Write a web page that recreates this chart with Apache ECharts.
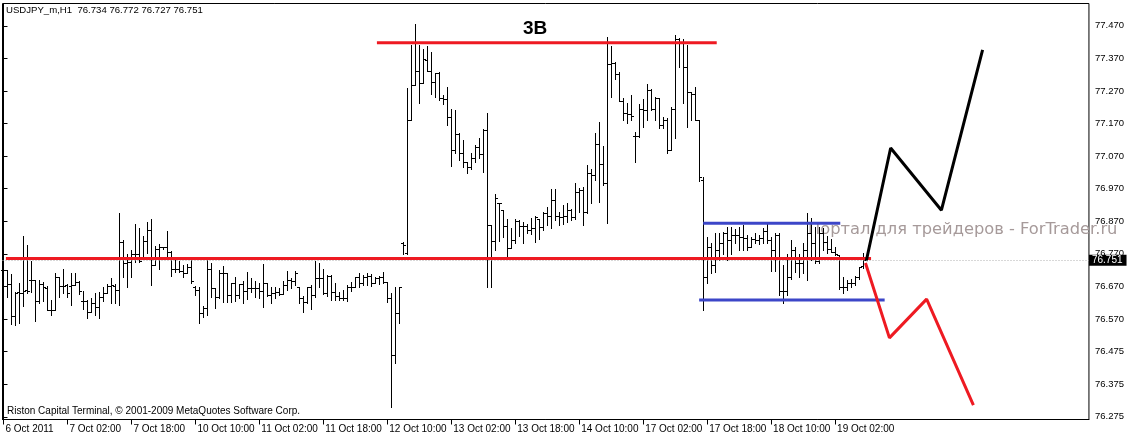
<!DOCTYPE html>
<html><head><meta charset="utf-8">
<script src="https://cdn.jsdelivr.net/npm/echarts@6/dist/echarts.min.js"></script>
<style>html,body{margin:0;padding:0;background:#fff}#c{width:1127px;height:436px}</style>
</head><body><div id="c"></div>
<script>
// USDJPY_m H1 bars (open, high, low, close), one entry per hourly bar
const opens = [
76.720,76.720,76.676,76.580,76.654,76.651,76.659,76.689,76.689,76.626,
76.677,76.664,76.599,76.599,76.698,76.671,76.674,76.671,76.674,76.685,
76.624,76.624,76.593,76.618,76.608,76.638,76.651,76.671,76.671,76.659,
76.807,76.743,76.745,76.771,76.771,76.756,76.809,76.843,76.736,76.785,
76.790,76.790,76.776,76.725,76.724,76.718,76.712,76.730,76.669,76.659,
76.587,76.603,76.725,76.664,76.638,76.710,76.710,76.643,76.679,76.643,
76.677,76.657,76.664,76.664,76.664,76.657,76.679,76.643,76.649,76.652,
76.646,76.674,76.689,76.687,76.669,76.635,76.621,76.667,76.643,76.695,
76.695,76.651,76.702,76.654,76.640,76.635,76.635,76.669,76.669,76.698,
76.679,76.698,76.702,76.679,76.695,76.698,76.684,76.633,76.459,76.587,
76.802,76.773,77.180,77.288,77.332,77.293,77.365,77.332,77.298,77.324,
77.247,77.244,77.189,77.090,77.138,77.080,77.053,77.037,77.063,77.099,
77.076,77.150,76.858,76.810,76.927,76.906,76.855,76.787,76.812,76.872,
76.855,76.855,76.843,76.848,76.876,76.853,76.894,76.886,76.935,76.886,
76.882,76.886,76.906,76.884,76.961,76.966,76.899,77.019,77.012,77.107,
77.047,76.986,77.354,77.356,77.322,77.240,77.201,77.199,77.131,77.131,
77.213,77.211,77.273,77.213,77.247,77.165,77.180,77.088,77.213,77.428,
77.416,77.344,77.267,77.262,77.180,76.996,76.700,76.792,76.736,76.782,
76.804,76.833,76.812,76.828,76.828,76.823,76.818,76.792,76.815,76.812,
76.818,76.841,76.812,76.782,76.828,76.657,76.657,76.698,76.782,76.743,
76.741,76.782,76.833,76.804,76.749,76.833,76.807,76.784,76.777,76.766,
76.669,76.669,76.679,76.681,76.700,76.734];
const highs = [
76.738,76.720,76.708,76.654,76.682,76.825,76.796,76.749,76.689,76.689,
76.683,76.671,76.628,76.710,76.698,76.725,76.677,76.710,76.710,76.686,
76.657,76.628,76.636,76.649,76.654,76.669,76.677,76.695,76.676,76.894,
76.812,76.771,76.782,76.861,76.848,76.826,76.869,76.876,76.794,76.800,
76.792,76.840,76.778,76.759,76.749,76.736,76.739,76.751,76.671,76.669,
76.610,76.751,76.741,76.664,76.720,76.732,76.710,76.679,76.700,76.677,
76.687,76.715,76.695,76.687,76.681,76.738,76.679,76.669,76.669,76.664,
76.687,76.718,76.695,76.717,76.669,76.640,76.669,76.674,76.749,76.743,
76.725,76.705,76.705,76.679,76.654,76.659,76.674,76.684,76.700,76.710,
76.705,76.710,76.708,76.698,76.702,76.715,76.684,76.651,76.669,76.669,
76.805,77.280,77.411,77.475,77.411,77.400,77.408,77.390,77.326,77.329,
77.257,77.281,77.216,77.211,77.140,77.119,77.053,77.080,77.104,77.124,
77.152,77.201,76.858,76.955,76.927,76.906,76.876,76.848,76.876,76.874,
76.868,76.863,76.879,76.886,76.876,76.899,76.914,76.968,76.968,76.899,
76.920,76.925,76.909,76.988,76.971,76.976,77.042,77.029,77.142,77.175,
77.101,77.434,77.408,77.359,77.329,77.247,77.234,77.257,77.145,77.230,
77.244,77.291,77.275,77.252,77.247,77.191,77.186,77.221,77.441,77.431,
77.428,77.411,77.267,77.281,77.180,77.007,76.823,76.802,76.833,76.833,
76.838,76.853,76.853,76.845,76.853,76.858,76.828,76.823,76.833,76.828,
76.848,76.862,76.823,76.833,76.833,76.736,76.771,76.812,76.792,76.771,
76.802,76.894,76.879,76.853,76.853,76.848,76.825,76.815,76.792,76.766,
76.700,76.690,76.692,76.702,76.731,76.772];
const lows = [
76.679,76.638,76.554,76.553,76.558,76.611,76.649,76.652,76.565,76.620,
76.625,76.597,76.582,76.597,76.638,76.649,76.638,76.613,76.674,76.646,
76.600,76.574,76.592,76.582,76.574,76.626,76.651,76.618,76.620,76.613,
76.700,76.669,76.700,76.746,76.745,76.753,76.773,76.674,76.736,76.725,
76.786,76.756,76.702,76.715,76.715,76.700,76.710,76.681,76.643,76.558,
76.575,76.582,76.638,76.603,76.633,76.623,76.623,76.623,76.626,76.633,
76.620,76.630,76.654,76.638,76.633,76.608,76.640,76.620,76.636,76.643,
76.646,76.659,76.664,76.674,76.620,76.592,76.618,76.600,76.638,76.669,
76.646,76.640,76.628,76.628,76.628,76.628,76.626,76.657,76.669,76.669,
76.674,76.674,76.671,76.679,76.677,76.681,76.623,76.300,76.436,76.559,
76.769,76.771,77.180,77.288,77.234,77.293,77.332,77.262,77.250,77.242,
77.230,77.165,77.039,77.078,77.058,77.037,77.017,77.029,77.053,77.063,
77.022,76.669,76.667,76.783,76.810,76.822,76.763,76.787,76.802,76.824,
76.802,76.835,76.831,76.807,76.817,76.843,76.858,76.848,76.874,76.858,
76.863,76.868,76.874,76.876,76.899,76.858,76.894,76.925,76.996,76.930,
76.981,76.865,77.252,77.308,77.240,77.180,77.172,77.180,77.053,77.129,
77.160,77.180,77.211,77.180,77.155,77.155,77.078,77.088,77.124,77.344,
77.234,77.158,77.180,77.180,76.994,76.598,76.679,76.710,76.715,76.751,
76.771,76.751,76.771,76.804,76.782,76.782,76.782,76.792,76.802,76.800,
76.802,76.804,76.718,76.718,76.644,76.618,76.644,76.694,76.715,76.700,
76.710,76.690,76.751,76.743,76.741,76.782,76.773,76.777,76.766,76.661,
76.649,76.659,76.669,76.674,76.692,76.727];
const closes = [
76.720,76.676,76.580,76.651,76.651,76.657,76.657,76.689,76.626,76.677,
76.667,76.599,76.599,76.698,76.671,76.671,76.651,76.674,76.685,76.657,
76.624,76.593,76.618,76.608,76.638,76.651,76.671,76.673,76.659,76.807,
76.743,76.745,76.771,76.771,76.749,76.809,76.843,76.736,76.785,76.790,
76.790,76.776,76.725,76.724,76.718,76.712,76.730,76.686,76.659,76.587,
76.603,76.725,76.664,76.638,76.710,76.710,76.643,76.679,76.643,76.677,
76.657,76.664,76.664,76.664,76.657,76.679,76.643,76.649,76.652,76.646,
76.674,76.689,76.687,76.712,76.635,76.621,76.667,76.643,76.695,76.695,
76.651,76.702,76.654,76.640,76.635,76.635,76.669,76.669,76.698,76.679,
76.698,76.702,76.679,76.695,76.698,76.684,76.633,76.459,76.587,76.668,
76.797,77.180,77.288,77.332,77.293,77.367,77.332,77.298,77.324,77.247,
77.244,77.189,77.090,77.138,77.080,77.053,77.037,77.063,77.099,77.076,
77.150,76.858,76.810,76.940,76.925,76.855,76.787,76.812,76.872,76.855,
76.855,76.843,76.848,76.884,76.853,76.894,76.886,76.935,76.886,76.882,
76.886,76.906,76.884,76.961,76.966,76.899,77.019,77.012,77.107,77.047,
76.986,77.354,77.356,77.322,77.240,77.201,77.199,77.193,77.131,77.213,
77.211,77.273,77.213,77.247,77.165,77.180,77.088,77.213,77.428,77.416,
77.344,77.267,77.262,77.180,77.007,76.700,76.792,76.736,76.782,76.804,
76.833,76.812,76.828,76.828,76.823,76.818,76.792,76.815,76.812,76.818,
76.841,76.812,76.782,76.828,76.657,76.657,76.698,76.782,76.743,76.741,
76.782,76.833,76.804,76.749,76.833,76.807,76.784,76.777,76.771,76.669,
76.669,76.679,76.681,76.700,76.729,76.751];

// time axis labels (bar index of each label)
const xTickBars = [0,16,32,48,64,80,96,112,128,144,160,176,192,208];
const xTickLabels = ["6 Oct 2011","7 Oct 02:00","7 Oct 18:00","10 Oct 10:00","11 Oct 02:00",
  "11 Oct 18:00","12 Oct 10:00","13 Oct 02:00","13 Oct 18:00","14 Oct 10:00",
  "17 Oct 02:00","17 Oct 18:00","18 Oct 10:00","19 Oct 02:00"];
// price axis labels
const yTickValues = [77.47,77.37,77.27,77.17,77.07,76.97,76.87,76.77,76.67,76.57,76.47,76.37,76.27];
const yTickLabels = ["77.470","77.370","77.270","77.170","77.070","76.970","76.870","76.770",
  "76.670","76.570","76.475","76.375","76.275"];

// drawn analysis objects: [barIndex, price]
const resistanceLine = [[93.4,77.418],[178.4,77.418]];
const supportLine = [[0.6,76.756],[217,76.756]];
const channelTopLine = [[175,76.864],[209.3,76.864]];
const channelBottomLine = [[174,76.628],[220.4,76.628]];
const bullPath = [[215.8,76.748],[221.9,77.095],[234.6,76.904],[244.9,77.396]];
const bearPath = [[215.6,76.742],[221.6,76.512],[230.9,76.631],[242.6,76.306]];
const symbolName = "USDJPY_m,H1";

const n = closes.length;
const last = n - 1;
const ohlc = opens.map((o, i) => [i, o, highs[i], lows[i], closes[i]]);
const fmt = v => v.toFixed(3);
const font = 'Liberation Sans, Arial, sans-serif';

const chart = echarts.init(document.getElementById('c'), null, {renderer: 'canvas'});
const lineSeries = (data, color, z) => ({
  type: 'line', data, symbol: 'none', silent: true, animation: false, z,
  lineStyle: {color, width: 3, cap: 'butt'}
});

chart.setOption({
  animation: false,
  backgroundColor: '#fff',
  grid: {left: 2.5, right: 37.5, top: 3.5, bottom: 16.5, show: true,
    borderColor: '#000', borderWidth: 1, backgroundColor: 'transparent'},
  xAxis: {
    type: 'value', min: -0.25, max: 271.5,
    axisLine: {show: true, onZero: false, lineStyle: {color: '#000', width: 1}},
    axisTick: {show: true, customValues: xTickBars, length: 5, lineStyle: {color: '#000'}},
    axisLabel: {customValues: xTickBars, align: 'left', margin: 5, padding: [0,0,0,2],
      fontSize: 10, color: '#000', fontFamily: font,
      formatter: v => { const k = xTickBars.indexOf(Math.round(v)); return k >= 0 ? xTickLabels[k] : ''; }},
    splitLine: {show: false}
  },
  yAxis: {
    type: 'value', position: 'right', min: 76.2616, max: 77.5383,
    axisLine: {show: true, lineStyle: {color: '#000', width: 1}},
    axisTick: {show: true, customValues: yTickValues, length: 4, lineStyle: {color: '#000'}},
    axisLabel: {customValues: yTickValues, margin: 6, align: 'left', fontSize: 9.5,
      color: '#000', fontFamily: font,
      formatter: v => { const k = yTickValues.findIndex(t => Math.abs(t - v) < 1e-6); return k >= 0 ? yTickLabels[k] : ''; }},
    splitLine: {show: false}
  },
  graphic: [
    {type: 'text', left: 6, top: 5, z: 20, style: {
      text: symbolName + '  ' + [opens[last], highs[last], lows[last], closes[last]].map(fmt).join(' '),
      fontSize: 9.6, fontFamily: font, fill: '#000'}},
    {type: 'text', left: 7, top: 406, z: 20, style: {
      text: 'Riston Capital Terminal, © 2001-2009 MetaQuotes Software Corp.',
      fontSize: 10, fontFamily: font, fill: '#000'}},
    {type: 'text', left: 523, top: 19, z: 20, style: {
      text: '3B', fontSize: 19, fontWeight: 'bold', fontFamily: font, fill: '#000'}},
    {type: 'text', left: 808, top: 222, z: 1, style: {
      text: 'Портал для трейдеров - ForTrader.ru', fontSize: 16.3,
      fontFamily: 'DejaVu Sans, sans-serif', fill: '#a69a9a'}}
  ],
  series: [
    {
      type: 'custom', z: 5, silent: true, animation: false,
      data: ohlc,
      encode: {x: 0, y: [1, 2, 3, 4]},
      renderItem: (params, api) => {
        const i = api.value(0);
        const pO = api.coord([i, api.value(1)]);
        const pH = api.coord([i, api.value(2)]);
        const pL = api.coord([i, api.value(3)]);
        const pC = api.coord([i, api.value(4)]);
        const x = Math.floor(pO[0]);
        const yh = Math.round(pH[1]), yl = Math.round(pL[1]);
        const yo = Math.round(pO[1]), yc = Math.round(pC[1]);
        const st = {fill: '#000'};
        return {type: 'group', children: [
          {type: 'rect', shape: {x: x, y: yh, width: 1, height: Math.max(1, yl - yh + 1)}, style: st},
          {type: 'rect', shape: {x: x - 2, y: yo, width: 2, height: 1}, style: st},
          {type: 'rect', shape: {x: x + 1, y: yc, width: 2, height: 1}, style: st}
        ]};
      },
      markLine: {
        silent: true, symbol: ['none', 'none'], z: 30,
        lineStyle: {color: '#b0b0b0', width: 1, type: [1, 2]},
        label: {show: true, position: 'end', distance: 0, formatter: () => fmt(closes[last]),
          backgroundColor: '#000', color: '#fff', fontSize: 10, fontFamily: font, padding: [1, 4, 0, 3]},
        data: [{yAxis: closes[last] - 0.002}]
      }
    },
    lineSeries(supportLine, '#ee1a22', 10),
    lineSeries(resistanceLine, '#ee1a22', 10),
    lineSeries(channelTopLine, '#3c46c8', 10),
    lineSeries(channelBottomLine, '#3c46c8', 10),
    lineSeries(bullPath, '#000', 11),
    lineSeries(bearPath, '#ee1a22', 11)
  ]
});
</script></body></html>
